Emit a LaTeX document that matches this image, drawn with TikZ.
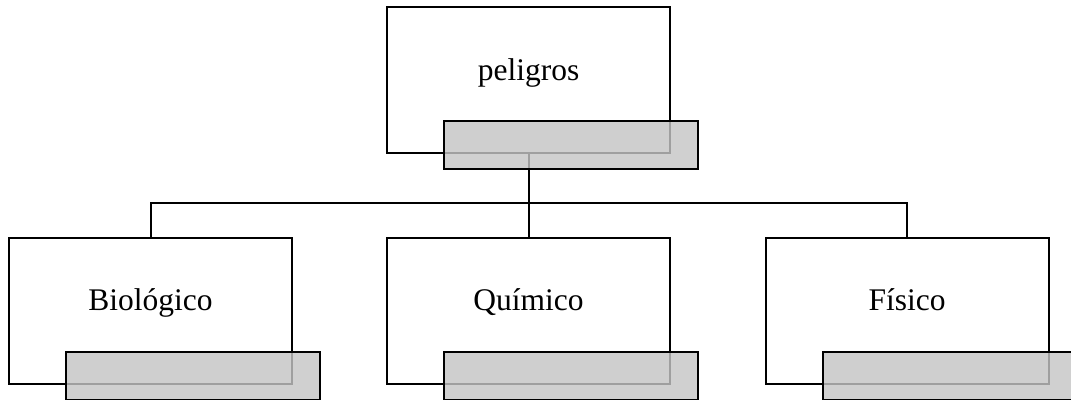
\documentclass[tikz,border=0pt]{standalone}
\usepackage{fontspec}
\setmainfont{Liberation Serif}
\begin{document}
\begin{tikzpicture}[x=1pt,y=-1pt,
  box/.style={draw=black,fill=white,line width=2pt,minimum width=283pt,minimum height=146pt,inner sep=0pt,outer sep=0pt},
  tab/.style={draw=black,line width=2pt,fill={rgb,255:red,197;green,197;blue,197},fill opacity=0.81,
    minimum width=254pt,minimum height=48pt,inner sep=0pt,outer sep=0pt,anchor=north west},
  conn/.style={line width=2pt,line join=miter},
  lbl/.style={font=\fontsize{31.5}{36}\selectfont,anchor=base,inner sep=0pt}]
  \useasboundingbox (0,0) rectangle (1071,399);

  % main boxes
  \node[box] (top) at (528.5,80) {};
  \node[box] (bio) at (150.5,310.5) {};
  \node[box] (qui) at (528.5,310.5) {};
  \node[box] (fis) at (907,310.5) {};

  % labels
  \node[lbl] (tTop) at (top.center) {peligros};
  \node[lbl] (tBio) at (bio.center) {Biológico};
  \node[lbl] (tQui) at (qui.center) {Químico};
  \node[lbl] (tFis) at (fis.center) {Físico};

  % connectors
  \coordinate (bus) at (528.5,203);
  \draw[conn] (top.south) -- (qui.north);
  \draw[conn] (bio.north) |- (bus) -| (fis.north);

  % translucent tabs over the lower edge of each box
  \node[tab] (topTab) at ([xshift=57,yshift=32]top.south west) {};
  \node[tab] (bioTab) at ([xshift=57,yshift=32]bio.south west) {};
  \node[tab] (quiTab) at ([xshift=57,yshift=32]qui.south west) {};
  \node[tab] (fisTab) at ([xshift=57,yshift=32]fis.south west) {};
\end{tikzpicture}
\end{document}
